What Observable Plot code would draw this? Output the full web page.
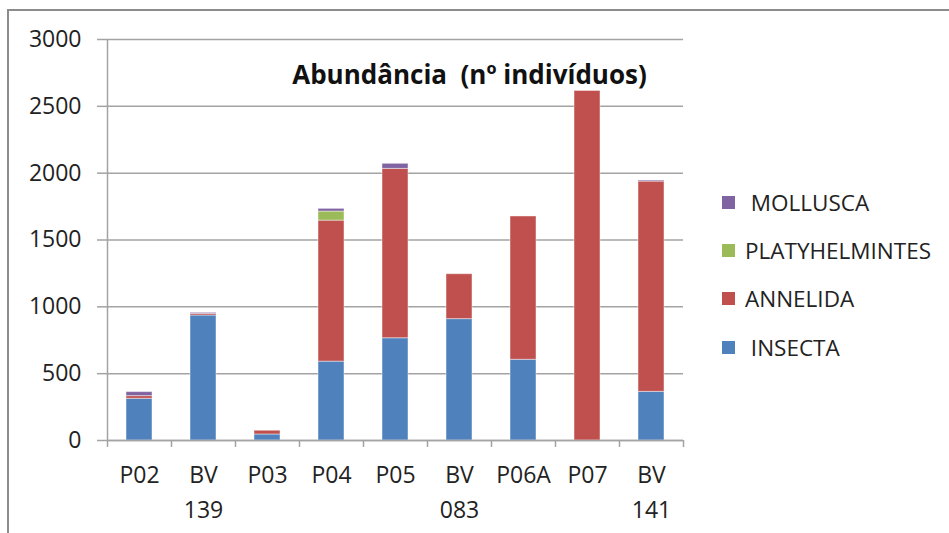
<!DOCTYPE html>
<html>
<head>
<meta charset="utf-8">
<script src="https://cdn.jsdelivr.net/npm/d3@7"></script>
<script src="https://cdn.jsdelivr.net/npm/@observablehq/plot@0.6"></script>
<style>
  html, body { margin: 0; padding: 0; background: #fff; }
  #wrap { position: relative; width: 949px; height: 533px; overflow: hidden; font-family: "Open Sans", sans-serif; }
  #border { position: absolute; left: 7px; top: 9px; width: 960px; height: 540px; border-top: 2px solid #8c8c8c; border-left: 2px solid #8c8c8c; }
  #chart { position: absolute; left: 0; top: 0; }
  #legend { position: absolute; left: 722px; top: 178px; }
  .li { display: flex; align-items: center; height: 48.3px; font-size: 22.5px; color: #222; white-space: pre; }
  .sw { width: 13px; height: 13px; margin-right: 10px; }
</style>
</head>
<body>
<div id="wrap">
  <div id="border"></div>
  <div id="chart"></div>
  <div id="legend"></div>
</div>
<script>
const categories = ["P02", "BV 139", "P03", "P04", "P05", "BV 083", "P06A", "P07", "BV 141"];
const series = ["INSECTA", "ANNELIDA", "PLATYHELMINTES", "MOLLUSCA"];
const colors = ["#4F81BD", "#C0504D", "#9BBB59", "#8064A2"];
const insecta = [312, 935, 45, 590, 765, 908, 604, 0, 364];
const annelida = [20, 12, 28, 1055, 1267, 336, 1072, 2615, 1573];
const platyhelmintes = [0, 0, 0, 68, 0, 0, 0, 0, 0];
const mollusca = [30, 8, 0, 20, 38, 0, 0, 0, 8];
const yTicks = [0, 500, 1000, 1500, 2000, 2500, 3000];
const title = "Abundância  (nº indivíduos)";

const valuesBySeries = [insecta, annelida, platyhelmintes, mollusca];
const data = [];
categories.forEach((c, i) => {
  series.forEach((s, j) => data.push({cat: c, series: s, value: valuesBySeries[j][i]}));
});

const halfStep = 32;
const chart = Plot.plot({
  width: 949,
  height: 533,
  marginLeft: 107,
  marginRight: 266,
  marginTop: 39,
  marginBottom: 93,
  style: {fontFamily: "'Open Sans', sans-serif", fontSize: "22px", color: "#222", background: "transparent"},
  x: {domain: categories, paddingInner: 0.6, paddingOuter: 0.3, label: null},
  y: {domain: [0, 3000], label: null},
  color: {domain: series, range: colors},
  marks: [
    Plot.gridY(yTicks, {stroke: "#a3a3a3", strokeOpacity: 1, strokeWidth: 1.5}),
    Plot.barY(data, {x: "cat", y: "value", fill: "series", order: series, stroke: "white", strokeOpacity: 0.45, strokeWidth: 1}),
    Plot.ruleY([0], {stroke: "#a3a3a3", strokeWidth: 1.5}),
    Plot.ruleX([categories[0]], {dx: -halfStep, stroke: "#a3a3a3", strokeWidth: 1.5}),
    Plot.ruleX(categories, {dx: -halfStep, y1: 0, y2: -52, stroke: "#a3a3a3", strokeWidth: 1.5}),
    Plot.ruleX([categories[categories.length - 1]], {dx: halfStep, y1: 0, y2: -52, stroke: "#a3a3a3", strokeWidth: 1.5}),
    Plot.axisY(yTicks, {tickSize: 10, tickPadding: 16, tickFormat: d => String(d), stroke: "#a3a3a3", strokeWidth: 1.5, fill: "#222", fontSize: 23}),
    Plot.axisX({tickSize: 0, tickPadding: 17, tickFormat: d => d.replace(" ", "\n"), lineHeight: 1.55, fill: "#222", fontSize: 23}),
    Plot.text([title], {frameAnchor: "top", dx: 74, dy: 26, text: d => d, fontWeight: "bold", fontSize: 26, fill: "#111"})
  ]
});
document.getElementById("chart").appendChild(chart);

const legend = document.getElementById("legend");
const pad = {MOLLUSCA: " ", INSECTA: " "};
[...series].reverse().forEach((s) => {
  const i = series.indexOf(s);
  const row = document.createElement("div");
  row.className = "li";
  const sw = document.createElement("div");
  sw.className = "sw";
  sw.style.background = colors[i];
  const t = document.createElement("span");
  t.textContent = (pad[s] || "") + s;
  row.appendChild(sw);
  row.appendChild(t);
  legend.appendChild(row);
});
</script>
</body>
</html>
